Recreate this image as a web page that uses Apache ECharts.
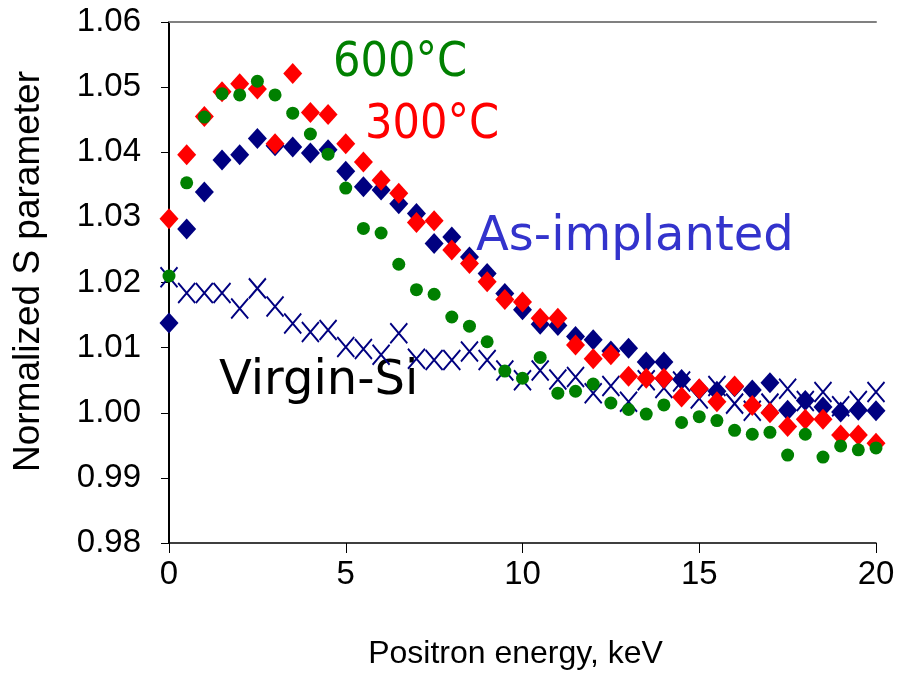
<!DOCTYPE html>
<html>
<head>
<meta charset="utf-8">
<script src="https://cdn.jsdelivr.net/npm/echarts@6/dist/echarts.min.js"></script>
<style>
  html, body { margin: 0; padding: 0; background: #fff; }
  #chart { width: 898px; height: 677px; }
</style>
</head>
<body>
<div id="chart"></div>
<script>
// positron energy, keV
var energies = [0, 0.5, 1, 1.5, 2, 2.5, 3, 3.5, 4, 4.5, 5, 5.5, 6, 6.5, 7, 7.5, 8, 8.5, 9, 9.5,
  10, 10.5, 11, 11.5, 12, 12.5, 13, 13.5, 14, 14.5, 15, 15.5, 16, 16.5, 17, 17.5, 18, 18.5, 19, 19.5, 20];

var virginSi = [1.0208, 1.0184, 1.0184, 1.0184, 1.0160, 1.0191, 1.0163, 1.0137, 1.0124, 1.0127,
  1.0101, 1.0098, 1.0089, 1.0122, 1.0083, 1.0081, 1.0081, 1.0094, 1.0081, 1.0065,
  1.0050, 1.0065, 1.0051, 1.0055, 1.0030, 1.0041, 1.0017, 1.0050, 1.0038, 1.0048,
  1.0022, 1.0041, 1.0014, 1.0003, 1.0014, 1.0037, 1.0018, 1.0032, 1.0010, 1.0018, 1.0032];

var asImplanted = [1.0138, 1.0282, 1.0339, 1.0388, 1.0396, 1.0421, 1.0410, 1.0408, 1.0399, 1.0404,
  1.0371, 1.0347, 1.0342, 1.0321, 1.0306, 1.0260, 1.0270, 1.0239, 1.0214, 1.0183,
  1.0158, 1.0136, 1.0134, 1.0117, 1.0112, 1.0095, 1.0099, 1.0078, 1.0078, 1.0051,
  1.0036, 1.0033, 1.0040, 1.0035, 1.0046, 1.0004, 1.0019, 1.0009, 1.0001, 1.0004, 1.0003];

var anneal300 = [1.0298, 1.0396, 1.0455, 1.0493, 1.0505, 1.0497, 1.0413, 1.0521, 1.0461, 1.0458,
  1.0413, 1.0385, 1.0357, 1.0337, 1.0292, 1.0295, 1.0250, 1.0229, 1.0201, 1.0174,
  1.0170, 1.0145, 1.0145, 1.0104, 1.0083, 1.0089, 1.0056, 1.0053, 1.0053, 1.0024,
  1.0037, 1.0017, 1.0041, 1.0011, 1.0000, 0.9979, 0.9990, 0.9990, 0.9966, 0.9966, 0.9953];

var anneal600 = [1.0210, 1.0353, 1.0454, 1.0490, 1.0488, 1.0509, 1.0488, 1.0460, 1.0428, 1.0397,
  1.0345, 1.0283, 1.0276, 1.0228, 1.0189, 1.0182, 1.0147, 1.0133, 1.0109, 1.0064,
  1.0053, 1.0085, 1.0030, 1.0033, 1.0044, 1.0015, 1.0005, 0.9998, 1.0012, 0.9985,
  0.9994, 0.9988, 0.9973, 0.9967, 0.9970, 0.9935, 0.9967, 0.9932, 0.9949, 0.9943, 0.9946];

function pairs(vals) {
  return energies.map(function (e, i) { return [e, vals[i]]; });
}

var navy = '#000080';
var condensed = '"DejaVu Sans Condensed", "DejaVu Sans", sans-serif';
var regular = '"DejaVu Sans", sans-serif';

var chart = echarts.init(document.getElementById('chart'), null, { renderer: 'canvas' });

var option = {
  animation: false,
  backgroundColor: '#fff',
  grid: { left: 169, right: 22, top: 22, bottom: 134 },
  xAxis: [{
    type: 'value',
    min: 0, max: 20, interval: 5,
    name: 'Positron energy, keV',
    nameLocation: 'middle',
    nameGap: 95,
    nameTextStyle: { fontFamily: 'Liberation Sans', fontSize: 32, color: '#000', padding: [0, 14, 0, 0] },
    axisLine: { lineStyle: { color: '#000', width: 1.5 } },
    axisTick: { length: 10, lineStyle: { color: '#000' } },
    axisLabel: { fontFamily: 'Liberation Sans', fontSize: 33, color: '#000', margin: 15 },
    splitLine: { show: false }
  }, {
    type: 'value',
    position: 'top',
    min: 0, max: 20,
    axisLine: { show: true, lineStyle: { color: '#808080', width: 2 } },
    axisTick: { show: false },
    axisLabel: { show: false },
    splitLine: { show: false }
  }],
  yAxis: [{
    type: 'value',
    min: 0.98, max: 1.06, interval: 0.01,
    name: 'Normalized S parameter',
    nameLocation: 'middle',
    nameRotate: 90,
    nameGap: 122,
    nameTextStyle: { fontFamily: 'Liberation Sans', fontSize: 37, color: '#000', padding: [0, 0, 0, 22] },
    axisLine: { show: true, lineStyle: { color: '#000', width: 2 } },
    axisTick: { show: true, length: 8, lineStyle: { color: '#000' } },
    axisLabel: {
      fontFamily: 'Liberation Sans', fontSize: 33, color: '#000', margin: 28,
      formatter: function (v) { return v.toFixed(2); }
    },
    splitLine: { show: false }
  }, {
    type: 'value',
    position: 'right',
    min: 0.98, max: 1.06,
    axisLine: { show: true, lineStyle: { color: '#000', width: 1.5 } },
    axisTick: { show: false },
    axisLabel: { show: false },
    splitLine: { show: false }
  }],
  series: [{
    name: 'Virgin-Si',
    type: 'scatter',
    data: pairs(virginSi),
    symbol: 'path://M0,0L10,12M10,0L0,12',
    symbolSize: [17, 20],
    itemStyle: { color: 'rgba(0,0,0,0)', borderColor: navy, borderWidth: 2, opacity: 1 }
  }, {
    name: 'As-implanted',
    type: 'scatter',
    data: pairs(asImplanted),
    symbol: 'diamond',
    symbolSize: [19, 21],
    itemStyle: { color: navy, opacity: 1 }
  }, {
    name: '300ºC',
    type: 'scatter',
    data: pairs(anneal300),
    symbol: 'diamond',
    symbolSize: [19, 21],
    itemStyle: { color: '#ff0000', opacity: 1 }
  }, {
    name: '600ºC',
    type: 'scatter',
    data: pairs(anneal600),
    symbol: 'circle',
    symbolSize: 13,
    itemStyle: { color: '#008000', opacity: 1 }
  }],
  graphic: [
    { type: 'text', left: 333, top: 40, style: { text: '600°C', font: '48px ' + condensed, fill: '#008000' } },
    { type: 'text', left: 365, top: 102, style: { text: '300°C', font: '48px ' + condensed, fill: '#ff0000' } },
    { type: 'text', left: 476, top: 214, style: { text: 'As-implanted', font: '48px ' + regular, fill: '#3333cc' } },
    { type: 'text', left: 219, top: 358, style: { text: 'Virgin-Si', font: '48px ' + regular, fill: '#000' } }
  ]
};

chart.setOption(option);
</script>
</body>
</html>
